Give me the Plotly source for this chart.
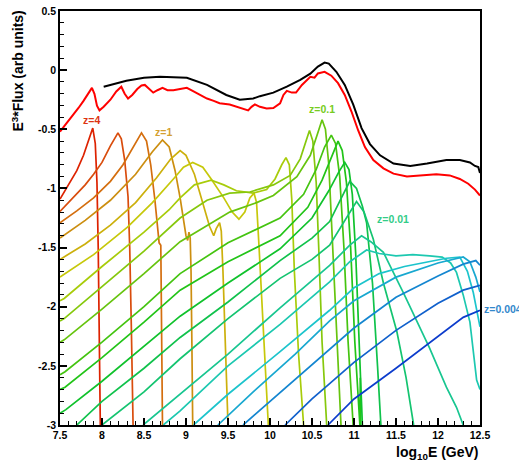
import plotly.graph_objects as go

# ---- total spectra (top) ----
black_x = [8.02, 8.29, 8.5, 8.69, 9.01, 9.25, 9.48, 9.64, 9.80, 9.88, 10.04, 10.20, 10.36, 10.48, 10.57, 10.65,
           10.70, 10.79, 10.89, 10.99, 11.09, 11.19, 11.31, 11.47, 11.67, 11.87, 12.10, 12.26, 12.38, 12.44,
           12.48, 12.5]
black_y = [-0.14, -0.09, -0.065, -0.056, -0.064, -0.125, -0.21, -0.25, -0.24, -0.22, -0.19, -0.14, -0.083,
           -0.03, 0.03, 0.064, 0.055, -0.014, -0.125, -0.29, -0.49, -0.625, -0.72, -0.79, -0.81, -0.79, -0.76,
           -0.76, -0.78, -0.81, -0.82, -0.87]

red_x = [7.5, 7.58, 7.66, 7.72, 7.78, 7.84, 7.88, 7.91, 7.94, 7.97, 8.02, 8.10, 8.17, 8.23, 8.27, 8.31, 8.36,
         8.42, 8.47, 8.51, 8.56, 8.61, 8.66, 8.72, 8.78, 8.85, 8.93, 9.01, 9.09, 9.17, 9.25, 9.33, 9.40, 9.52,
         9.64, 9.74, 9.78, 9.82, 9.88, 9.96, 10.04, 10.12, 10.16, 10.20, 10.26, 10.31, 10.38, 10.44, 10.48,
         10.53, 10.57, 10.65, 10.73, 10.81, 10.89, 10.97, 11.05, 11.13, 11.23, 11.35, 11.47, 11.63, 11.79,
         11.98, 12.14, 12.26, 12.36, 12.44, 12.5]
red_y = [-0.52, -0.45, -0.375, -0.32, -0.26, -0.19, -0.15, -0.2, -0.3, -0.34, -0.31, -0.25, -0.18, -0.14,
         -0.2, -0.24, -0.21, -0.16, -0.13, -0.125, -0.16, -0.19, -0.17, -0.15, -0.17, -0.17, -0.16, -0.15,
         -0.18, -0.21, -0.24, -0.26, -0.28, -0.29, -0.32, -0.34, -0.31, -0.29, -0.31, -0.325, -0.32, -0.28,
         -0.21, -0.175, -0.19, -0.19, -0.125, -0.083, -0.056, -0.064, -0.028, -0.014, -0.047, -0.11, -0.21,
         -0.35, -0.51, -0.65, -0.76, -0.83, -0.875, -0.90, -0.89, -0.88, -0.89, -0.92, -0.96, -1.01, -1.06]

# ---- single-redshift spectra (z=4 ... z=0.004) ----
c01_x = [7.5, 7.55, 7.62, 7.7, 7.78, 7.85, 7.89, 7.92, 7.94, 7.955, 7.965, 7.98]
c01_y = [-1.09, -1.03, -0.95, -0.85, -0.72, -0.57, -0.49, -0.62, -0.95, -1.5, -2.2, -3.0]
c02_x = [7.5, 7.6, 7.7, 7.8, 7.9, 8.0, 8.1, 8.19, 8.23, 8.27, 8.31, 8.33, 8.35, 8.37]
c02_y = [-1.195, -1.12, -1.05, -0.97, -0.88, -0.78, -0.64, -0.53, -0.58, -0.76, -1.07, -1.5, -2.2, -3.0]
c03_x = [7.5, 7.7, 7.9, 8.1, 8.25, 8.38, 8.47, 8.53, 8.58, 8.63, 8.66, 8.68, 8.70, 8.705, 8.72]
c03_y = [-1.29, -1.19, -1.08, -0.94, -0.80, -0.64, -0.53, -0.60, -0.80, -1.10, -1.35, -1.46, -1.48, -2.0, -3.0]
c04_x = [7.5, 7.8, 8.1, 8.4, 8.6, 8.72, 8.8, 8.87, 8.93, 8.98, 9.0, 9.02, 9.035, 9.05, 9.06, 9.07, 9.08]
c04_y = [-1.42, -1.27, -1.10, -0.88, -0.69, -0.59, -0.65, -0.85, -1.08, -1.30, -1.40, -1.44, -1.37, -1.42,
         -1.7, -2.3, -3.0]
c05_x = [7.5, 7.8, 8.1, 8.4, 8.65, 8.82, 8.93, 9.0, 9.1, 9.2, 9.28, 9.33, 9.36, 9.40, 9.42, 9.44, 9.47, 9.50]
c05_y = [-1.60, -1.47, -1.31, -1.12, -0.91, -0.75, -0.68, -0.72, -0.88, -1.12, -1.32, -1.40, -1.34, -1.29,
         -1.36, -1.7, -2.3, -3.0]
c06_x = [7.5, 7.9, 8.3, 8.6, 8.85, 8.97, 9.08, 9.2, 9.3, 9.45, 9.55, 9.63, 9.7, 9.76, 9.81, 9.84, 9.87, 9.92,
         9.98]
c06_y = [-1.75, -1.56, -1.33, -1.12, -0.92, -0.82, -0.78, -0.82, -0.92, -1.08, -1.20, -1.26, -1.20, -1.08,
         -1.04, -1.12, -1.5, -2.2, -3.0]
c07_x = [7.5, 7.55, 8.0, 8.5, 8.8, 8.93, 9.1, 9.3, 9.45, 9.6, 9.8, 9.96, 10.06, 10.14, 10.19, 10.23, 10.26,
         10.29, 10.34, 10.40]
c07_y = [-1.95, -1.93, -1.66, -1.37, -1.18, -1.08, -0.97, -0.93, -0.97, -1.02, -1.04, -1.01, -0.92, -0.80,
         -0.74, -0.80, -1.1, -1.7, -2.4, -3.0]
c08_x = [7.5, 7.55, 8.0, 8.5, 8.93, 9.25, 9.52, 9.76, 10.04, 10.24, 10.36, 10.44, 10.47, 10.51, 10.55, 10.58,
         10.62, 10.675]
c08_y = [-2.12, -2.10, -1.83, -1.53, -1.25, -1.10, -1.04, -1.03, -0.97, -0.89, -0.75, -0.58, -0.51, -0.60,
         -0.95, -1.5, -2.3, -3.0]
c09_x = [7.5, 7.55, 8.0, 8.5, 8.93, 9.52, 9.84, 10.04, 10.32, 10.48, 10.56, 10.62, 10.66, 10.70, 10.74, 10.79,
         10.845]
c09_y = [-2.30, -2.28, -2.02, -1.72, -1.45, -1.20, -1.12, -1.06, -0.90, -0.72, -0.55, -0.42, -0.50, -0.80,
         -1.4, -2.2, -3.0]
c10_x = [7.5, 7.56, 8.0, 8.5, 8.93, 9.5, 10.12, 10.4, 10.55, 10.65, 10.73, 10.78, 10.83, 10.88, 10.93, 10.99]
c10_y = [-2.575, -2.55, -2.30, -2.00, -1.72, -1.46, -1.25, -1.05, -0.84, -0.65, -0.55, -0.62, -0.90, -1.5,
         -2.3, -3.0]
c11_x = [7.5, 7.56, 8.0, 8.5, 8.93, 9.5, 10.12, 10.45, 10.62, 10.73, 10.81, 10.86, 10.91, 10.96, 11.01, 11.07,
         11.075, 11.08]
c11_y = [-2.70, -2.68, -2.43, -2.13, -1.86, -1.62, -1.40, -1.16, -0.93, -0.74, -0.60, -0.68, -0.95, -1.5,
         -2.3, -3.0, -2.6, -3.0]
c12_x = [7.5, 7.57, 8.0, 8.5, 8.93, 9.5, 10.12, 10.5, 10.7, 10.82, 10.89, 10.94, 10.98, 11.02, 11.06, 11.10]
c12_y = [-2.90, -2.87, -2.63, -2.33, -2.08, -1.80, -1.51, -1.25, -1.02, -0.86, -0.78, -0.84, -1.05, -1.55,
         -2.3, -3.0]
c13_x = [7.70, 8.0, 8.5, 8.93, 9.5, 10.12, 10.5, 10.71, 10.85, 10.95, 11.03, 11.10, 11.15, 11.22, 11.28, 11.32]
c13_y = [-3.0, -2.80, -2.52, -2.26, -1.96, -1.61, -1.42, -1.28, -1.08, -0.94, -1.0, -1.15, -1.29, -1.8, -2.5,
         -3.0]
c14_x = [8.0, 8.5, 8.93, 9.5, 10.12, 10.5, 10.71, 10.9, 11.03, 11.12, 11.23, 11.35, 11.51, 11.62, 11.71]
c14_y = [-3.0, -2.72, -2.44, -2.10, -1.76, -1.60, -1.48, -1.26, -1.11, -1.2, -1.43, -1.8, -2.21, -2.6, -3.0]
c15_x = [8.49, 8.93, 9.5, 10.12, 10.71, 10.95, 11.09, 11.2, 11.35, 11.6, 11.9, 12.1, 12.22, 12.30]
c15_y = [-3.0, -2.74, -2.40, -2.01, -1.65, -1.48, -1.40, -1.45, -1.54, -1.9, -2.35, -2.68, -2.85, -3.0]
c16_x = [8.73, 8.93, 9.5, 10.12, 10.71, 10.95, 11.15, 11.3, 11.5, 11.7, 11.9, 12.05, 12.15, 12.22, 12.30,
         12.38, 12.46, 12.5]
c16_y = [-3.0, -2.88, -2.50, -2.15, -1.79, -1.62, -1.52, -1.55, -1.57, -1.56, -1.57, -1.58, -1.63, -1.71,
         -1.90, -2.13, -2.62, -2.70]
c17_x = [9.09, 9.5, 10.12, 10.71, 11.0, 11.3, 11.6, 11.9, 12.1, 12.26, 12.35, 12.42, 12.5]
c17_y = [-3.0, -2.74, -2.38, -2.03, -1.84, -1.72, -1.66, -1.62, -1.59, -1.58, -1.70, -1.88, -2.17]
c18_x = [9.38, 9.8, 10.3, 10.71, 11.0, 11.5, 12.0, 12.3, 12.38, 12.45, 12.5]
c18_y = [-3.0, -2.72, -2.40, -2.12, -1.95, -1.75, -1.63, -1.58, -1.62, -1.75, -1.875]
c19_x = [9.68, 10.2, 10.71, 11.0, 11.5, 12.0, 12.3, 12.45, 12.5]
c19_y = [-3.0, -2.68, -2.36, -2.18, -1.92, -1.74, -1.64, -1.61, -1.65]
c20_x = [10.18, 10.5, 10.71, 11.0, 11.5, 12.0, 12.3, 12.5]
c20_y = [-3.0, -2.78, -2.65, -2.47, -2.20, -1.97, -1.86, -1.82]
c21_x = [10.69, 11.0, 11.5, 12.0, 12.3, 12.5]
c21_y = [-3.0, -2.78, -2.52, -2.25, -2.09, -2.03]

curve_colors = ["#dd2200", "#d94c0c", "#d46e0e", "#cc8e10", "#ccb00c", "#c6c80a", "#a8cc0a", "#86c80c",
                "#66c40e", "#44c410", "#22c418", "#10c22c", "#10c24c", "#14c470", "#18c690", "#1cc8b0",
                "#1cc4cc", "#18a8d0", "#1486d0", "#1060cc", "#0c3ccc"]

# labels
label_text = ["z=4", "z=1", "z=0.1", "z=0.01"]
label_x = [7.88, 8.73, 10.62, 11.46]
label_y = [-0.42, -0.525, -0.325, -1.26]
label_color = ["#dd3311", "#d4a030", "#77cc22", "#33cc88"]

x_tickvals = [7.5, 8, 8.5, 9, 9.5, 10, 10.5, 11, 11.5, 12, 12.5]
x_ticktext = ["7.5", "8", "8.5", "9", "9.5", "10", "10.5", "11", "11.5", "12", "12.5"]
y_tickvals = [0.5, 0, -0.5, -1, -1.5, -2, -2.5, -3]
y_ticktext = ["0.5", "0", "-0.5", "-1", "-1.5", "-2", "-2.5", "-3"]

curves = [(c01_x, c01_y), (c02_x, c02_y), (c03_x, c03_y), (c04_x, c04_y), (c05_x, c05_y), (c06_x, c06_y),
          (c07_x, c07_y), (c08_x, c08_y), (c09_x, c09_y), (c10_x, c10_y), (c11_x, c11_y), (c12_x, c12_y),
          (c13_x, c13_y), (c14_x, c14_y), (c15_x, c15_y), (c16_x, c16_y), (c17_x, c17_y), (c18_x, c18_y),
          (c19_x, c19_y), (c20_x, c20_y), (c21_x, c21_y)]

FONT = "Liberation Sans, Arial, sans-serif"

fig = go.Figure()
for (cx, cy), col in zip(curves, curve_colors):
    fig.add_trace(go.Scatter(x=cx, y=cy, mode="lines", line=dict(color=col, width=1.7),
                             hoverinfo="skip", showlegend=False))
fig.add_trace(go.Scatter(x=red_x, y=red_y, mode="lines", line=dict(color="#ff0000", width=2),
                         hoverinfo="skip", showlegend=False))
fig.add_trace(go.Scatter(x=black_x, y=black_y, mode="lines", line=dict(color="#000000", width=2),
                         hoverinfo="skip", showlegend=False))

for t, lx, ly, lc in zip(label_text, label_x, label_y, label_color):
    fig.add_annotation(x=lx, y=ly, xref="x", yref="y", text="<b>" + t + "</b>", showarrow=False,
                       font=dict(family=FONT, size=10.5, color=lc))

fig.add_annotation(x=1.005, y=-2.02, xref="paper", yref="y", text="<b>z=0.004</b>", showarrow=False,
                   xanchor="left", yanchor="middle", font=dict(family=FONT, size=10.5, color="#3388cc"))

fig.add_annotation(x=-0.101, y=0.855, xref="paper", yref="paper",
                   text="<b>E<sup>3</sup>*Flux (arb units)</b>", showarrow=False, textangle=-90,
                   xanchor="center", yanchor="middle", font=dict(family=FONT, size=14, color="black"))
fig.add_annotation(x=1.0, y=-0.067, xref="paper", yref="paper",
                   text="<b>log<sub>10</sub>E (GeV)</b>", showarrow=False,
                   xanchor="right", yanchor="middle", font=dict(family=FONT, size=14, color="black"))

axis_common = dict(showline=True, linecolor="black", linewidth=1.5, mirror=True, showgrid=False,
                   zeroline=False, ticks="inside", ticklen=7, tickwidth=1.5, tickcolor="black",
                   tickfont=dict(family=FONT, size=10.5, color="black", weight="bold"))

fig.update_xaxes(range=[7.5, 12.5], tickvals=x_tickvals, ticktext=x_ticktext,
                 minor=dict(dtick=0.1, tick0=7.5, ticks="inside", ticklen=4, tickwidth=1.2, tickcolor="black"),
                 **axis_common)
fig.update_yaxes(range=[-3, 0.5], tickvals=y_tickvals, ticktext=y_ticktext,
                 minor=dict(dtick=0.1, tick0=0.5, ticks="inside", ticklen=4, tickwidth=1.2, tickcolor="black"),
                 **axis_common)

fig.update_layout(width=519, height=468, margin=dict(l=60, r=39, t=5, b=43),
                  plot_bgcolor="white", paper_bgcolor="white", showlegend=False)

fig.write_html("out.html", config={"displayModeBar": False},
               post_script="document.body.style.margin='0';document.body.style.overflow='hidden';")
